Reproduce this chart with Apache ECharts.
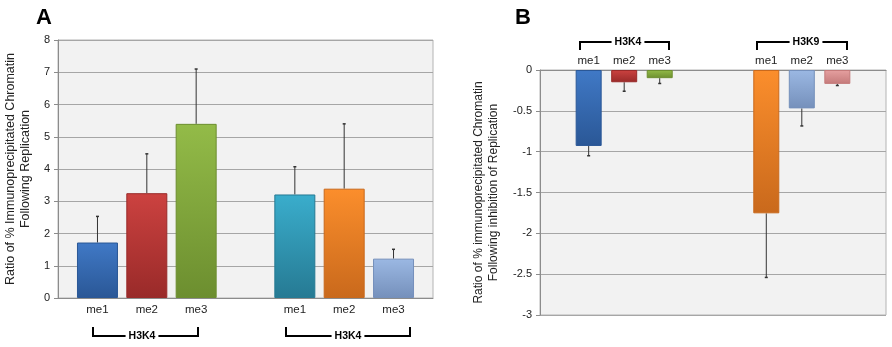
<!DOCTYPE html>
<html>
<head>
<meta charset="utf-8">
<script src="https://cdn.jsdelivr.net/npm/echarts@6/dist/echarts.min.js"></script>
<style>
  html, body { margin: 0; padding: 0; background: #fff; }
  #main { width: 892px; height: 347px; }
</style>
</head>
<body>
<div id="main"></div>
<script>
// panel A: ratio following replication
var categoriesA = ['me1', 'me2', 'me3', '', 'me1', 'me2', 'me3'];
var valuesA = [1.72, 3.25, 5.4, null, 3.21, 3.39, 1.22];
var errorsA = [0.81, 1.22, 1.7, null, 0.86, 2.01, 0.29];

// panel B: ratio following inhibition of replication
var categoriesB = ['me1', 'me2', 'me3', '', '', 'me1', 'me2', 'me3'];
var valuesB = [-0.93, -0.15, -0.10, null, null, -1.755, -0.47, -0.17];
var errorsB = [0.12, 0.11, 0.065, null, null, 0.785, 0.215, 0.02];

var ticksA = [0, 1, 2, 3, 4, 5, 6, 7, 8];
var ticksB = [-3, -2.5, -2, -1.5, -1, -0.5, 0];

// bar colours: [light top, dark bottom]
var coloursA = [['#4079c6', '#2a5796'], ['#cc4240', '#992a29'], ['#93bb48', '#6c8e2f'], null,
                ['#3aadcc', '#267a93'], ['#fb8e2c', '#c9691c'], ['#9bb8e3', '#7590bb']];
var coloursB = [['#4079c6', '#2a5796'], ['#cc4240', '#992a29'], ['#93bb48', '#6c8e2f'], null, null,
                ['#fb8e2c', '#c9691c'], ['#9bb8e3', '#7590bb'], ['#e6a0a0', '#c47a7a']];

var FONT = '"Liberation Sans", Arial, sans-serif';

function barData(values, colours) {
    var out = [];
    values.forEach(function(v, i) {
        if (v === null) return;
        out.push({
            value: [i, v],
            itemStyle: {
                color: {
                    type: 'linear', x: 0, y: 0, x2: 0, y2: 1,
                    colorStops: [
                        {offset: 0, color: colours[i][0]},
                        {offset: 1, color: colours[i][1]}
                    ]
                },
                borderColor: colours[i][1],
                borderWidth: 1
            }
        });
    });
    return out;
}

function errData(values, errors) {
    var out = [];
    values.forEach(function(v, i) {
        if (v === null) return;
        var end = v >= 0 ? v + errors[i] : v - errors[i];
        out.push([i, v, end]);
    });
    return out;
}

function renderError(params, api) {
    var p0 = api.coord([api.value(0), api.value(1)]);
    var p1 = api.coord([api.value(0), api.value(2)]);
    var cap = 1.5;
    return {
        type: 'group',
        children: [
            {type: 'line', shape: {x1: p0[0], y1: p0[1], x2: p1[0], y2: p1[1]},
             style: {stroke: '#333', lineWidth: 1}},
            {type: 'line', shape: {x1: p1[0] - cap, y1: p1[1], x2: p1[0] + cap, y2: p1[1]},
             style: {stroke: '#333', lineWidth: 1.5}}
        ]
    };
}

function labelIndices(cats) {
    var idx = [];
    cats.forEach(function(c, i) { if (c) idx.push(i); });
    return idx;
}

function bracket(x0, x1, y, dy, label, tx) {
    return [{
        type: 'polyline',
        shape: {points: [[x0, y + dy], [x0, y], [x1, y], [x1, y + dy]]},
        style: {stroke: '#000', lineWidth: 2, fill: null}
    }, {
        type: 'text',
        x: tx, y: y,
        style: {
            text: label, font: 'bold 10.5px ' + FONT, fill: '#000',
            align: 'center', verticalAlign: 'middle',
            backgroundColor: '#fff', padding: [1, 3]
        }
    }];
}

var chart = echarts.init(document.getElementById('main'), null, {renderer: 'canvas'});

var gridStyle = {show: true, backgroundColor: '#f2f2f2', borderColor: '#b4b4b4', borderWidth: 1};
var splitStyle = {show: true, lineStyle: {color: '#a6a6a6', width: 1}};
var axisLineStyle = {show: true, onZero: false, lineStyle: {color: '#8c8c8c'}};

chart.setOption({
    animation: false,
    textStyle: {fontFamily: FONT},
    title: [
        {text: 'A', left: 31, top: 2, textStyle: {fontSize: 22, fontWeight: 'bold', color: '#000', fontFamily: FONT}},
        {text: 'B', left: 510, top: 2, textStyle: {fontSize: 22, fontWeight: 'bold', color: '#000', fontFamily: FONT}}
    ],
    grid: [
        Object.assign({left: 58, right: 459, top: 40, bottom: 49}, gridStyle),
        Object.assign({left: 540, right: 6, top: 70, bottom: 32}, gridStyle)
    ],
    xAxis: [{
        gridIndex: 0, type: 'value', min: -0.8, max: categoriesA.length - 0.2,
        axisLine: {show: true, lineStyle: {color: '#8c8c8c'}},
        axisTick: {show: false}, splitLine: {show: false},
        axisLabel: {
            customValues: labelIndices(categoriesA),
            formatter: function(v) { return categoriesA[v]; },
            color: '#222', fontSize: 11.5, margin: 6
        }
    }, {
        gridIndex: 1, type: 'value', position: 'top', min: -1.37, max: categoriesB.length - 1 + 1.37,
        axisLine: axisLineStyle,
        axisTick: {show: false}, splitLine: {show: false},
        axisLabel: {
            customValues: labelIndices(categoriesB),
            formatter: function(v) { return categoriesB[v]; },
            color: '#222', fontSize: 11.5, margin: 3
        }
    }],
    yAxis: [{
        gridIndex: 0, type: 'value', min: ticksA[0], max: ticksA[ticksA.length - 1], interval: 1,
        axisLine: axisLineStyle,
        axisTick: {show: true, length: 4, lineStyle: {color: '#8c8c8c'}},
        splitLine: splitStyle,
        axisLabel: {color: '#222', fontSize: 11, margin: 8},
        name: 'Ratio of % Immunoprecipitated Chromatin\nFollowing Replication',
        nameLocation: 'middle', nameGap: 25, nameRotate: 90,
        nameTextStyle: {color: '#222', fontSize: 12.5, lineHeight: 15, fontFamily: FONT}
    }, {
        gridIndex: 1, type: 'value', min: ticksB[0], max: ticksB[ticksB.length - 1], interval: 0.5,
        axisLine: axisLineStyle,
        axisTick: {show: true, length: 4, lineStyle: {color: '#8c8c8c'}},
        splitLine: splitStyle,
        axisLabel: {color: '#222', fontSize: 11, margin: 8},
        name: 'Ratio of % immunoprecipitated Chromatin\nFollowing inhibition of Replication',
        nameLocation: 'middle', nameGap: 39, nameRotate: 90,
        nameTextStyle: {color: '#222', fontSize: 12, lineHeight: 15, fontFamily: FONT}
    }],
    series: [{
        type: 'bar', xAxisIndex: 0, yAxisIndex: 0, barWidth: 41,
        data: barData(valuesA, coloursA)
    }, {
        type: 'custom', xAxisIndex: 0, yAxisIndex: 0, z: 1,
        renderItem: renderError, data: errData(valuesA, errorsA)
    }, {
        type: 'bar', xAxisIndex: 1, yAxisIndex: 1, barWidth: 26,
        data: barData(valuesB, coloursB)
    }, {
        type: 'custom', xAxisIndex: 1, yAxisIndex: 1, z: 1,
        renderItem: renderError, data: errData(valuesB, errorsB)
    }],
    graphic: [].concat(
        bracket(93, 198, 336, -9, 'H3K4', 142),
        bracket(286, 410, 336, -9, 'H3K4', 348),
        bracket(580, 669, 42, 8, 'H3K4', 628),
        bracket(757, 847, 42, 8, 'H3K9', 806)
    )
});
</script>
</body>
</html>
